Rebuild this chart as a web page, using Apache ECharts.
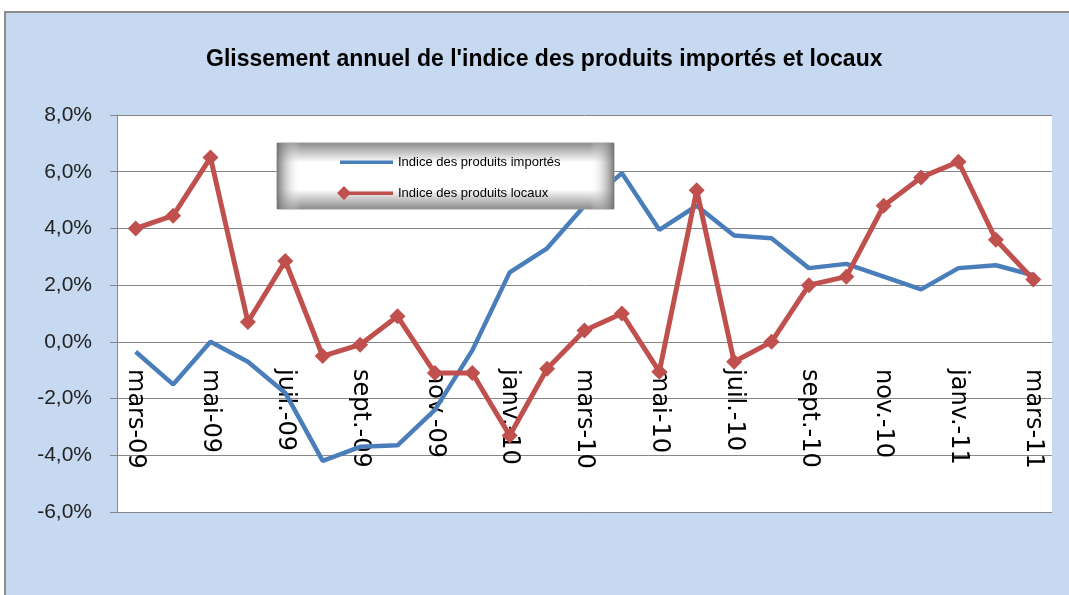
<!DOCTYPE html>
<html>
<head>
<meta charset="utf-8">
<script src="https://cdn.jsdelivr.net/npm/echarts@6/dist/echarts.min.js"></script>
<style>
  html, body { margin: 0; padding: 0; background: #fff; }
</style>
</head>
<body>
<!--conteneur du graphique-->
<div id="glissement" style="width: 1069px; height: 595px"></div>
<script>
// mois affichés sur l'axe des x
const months = ["mars-09", "avr.-09", "mai-09", "juin-09", "juil.-09", "août-09", "sept.-09", "oct.-09",
  "nov.-09", "déc.-09", "janv.-10", "févr.-10", "mars-10", "avr.-10", "mai-10", "juin-10", "juil.-10",
  "août-10", "sept.-10", "oct.-10", "nov.-10", "déc.-10", "janv.-11", "févr.-11", "mars-11"];
// glissement annuel (%)
const importes = [-0.35, -1.5, 0.0, -0.7, -1.8, -4.2, -3.7, -3.65, -2.4, -0.3, 2.45, 3.3, 4.8,
  5.95, 3.95, 4.8, 3.75, 3.65, 2.6, 2.75, 2.3, 1.85, 2.6, 2.7, 2.35];
const locaux = [4.0, 4.45, 6.5, 0.7, 2.85, -0.5, -0.1, 0.9, -1.1, -1.1, -3.3, -0.95, 0.4,
  1.0, -1.05, 5.35, -0.7, 0.0, 2.0, 2.3, 4.8, 5.8, 6.35, 3.6, 2.2];
const seriesNames = ["Indice des produits importés", "Indice des produits locaux"];

const chart = echarts.init(document.getElementById("glissement"));
chart.setOption({
  animation: false,
  title: {
    text: "Glissement annuel de l'indice des produits importés et locaux",
    left: 201,
    top: 43,
    textStyle: {
      fontFamily: "Liberation Sans, sans-serif",
      fontSize: 23,
      fontWeight: "bold",
      color: "#000",
    },
  },
  graphic: [
    {
      type: "rect",
      z: -10,
      shape: { x: 5, y: 12, width: 1080, height: 600 },
      style: { fill: "#c6d9f1", stroke: "#8c8c8c", lineWidth: 2 },
    },
    //cadre de la légende
    {
      type: "rect",
      z: 19,
      shape: { x: 277, y: 143, width: 337, height: 66 },
      style: {
        fill: new echarts.graphic.LinearGradient(0, 0, 0, 1, [
          { offset: 0, color: "#8a8a8a" },
          { offset: 0.3, color: "#ffffff" },
          { offset: 0.7, color: "#ffffff" },
          { offset: 1, color: "#8a8a8a" },
        ]),
        stroke: "#9a9a9a",
        lineWidth: 1,
      },
    },
    {
      type: "rect",
      z: 19,
      shape: { x: 277, y: 143, width: 337, height: 66 },
      style: {
        fill: new echarts.graphic.LinearGradient(0, 0, 1, 0, [
          { offset: 0, color: "rgba(110,110,110,0.9)" },
          { offset: 0.07, color: "rgba(255,255,255,0)" },
          { offset: 0.93, color: "rgba(255,255,255,0)" },
          { offset: 1, color: "rgba(110,110,110,0.9)" },
        ]),
      },
    },
  ],
  legend: {
    z: 20,
    orient: "vertical",
    left: 337,
    top: 155,
    padding: 0,
    itemWidth: 56,
    itemHeight: 14,
    itemGap: 17,
    textStyle: {
      fontFamily: "Liberation Sans, sans-serif",
      fontSize: 13,
      color: "#000",
    },
    data: [
      { name: seriesNames[0], icon: "path://M0,0 M3,5.5 L56,5.5 L56,9 L3,9 Z M56,14" },
      { name: seriesNames[1], icon: "path://M0,7 L7,0 L14,7 L7,14 Z M12,5.5 L56,5.5 L56,9 L12,9 Z" },
    ],
  },
  grid: {
    left: 117,
    right: 17,
    top: 115,
    bottom: 83,
    outerBoundsMode: "none",
    containLabel: false,
    show: true,
    backgroundColor: "#fff",
    borderWidth: 0,
  },
  xAxis: {
    type: "category",
    data: months,
    boundaryGap: true,
    position: "bottom",
    //l'axe des x passe par 0 %
    offset: -170,
    axisLine: { onZero: false, lineStyle: { color: "#868686" } },
    axisTick: { interval: 1, length: 7, lineStyle: { color: "#868686" } },
    axisLabel: {
      interval: 1,
      rotate: -90,
      margin: 27,
      fontFamily: "DejaVu Sans, sans-serif",
      fontSize: 24,
      color: "#000",
    },
  },
  yAxis: {
    type: "value",
    min: -6,
    max: 8,
    interval: 2,
    axisLine: { show: true, lineStyle: { color: "#868686" } },
    axisTick: { show: true, length: 7, lineStyle: { color: "#868686" } },
    axisLabel: {
      margin: 25,
      fontFamily: "Liberation Sans, sans-serif",
      fontSize: 21,
      color: "#222",
      formatter: function (v) {
        return v.toFixed(1).replace(".", ",") + "%";
      },
    },
    splitLine: { lineStyle: { color: "#868686", width: 1 } },
  },
  series: [
    {
      name: seriesNames[0],
      type: "line",
      data: importes,
      symbol: "none",
      color: "#4a7ebb",
      lineStyle: { width: 4.5, color: "#4a7ebb" },
      z: 10,
    },
    {
      name: seriesNames[1],
      type: "line",
      data: locaux,
      symbol: "diamond",
      symbolSize: 16,
      color: "#c0504d",
      itemStyle: { color: "#c0504d" },
      lineStyle: { width: 5, color: "#c0504d" },
      z: 10,
    },
  ],
});
</script>
</body>
</html>
